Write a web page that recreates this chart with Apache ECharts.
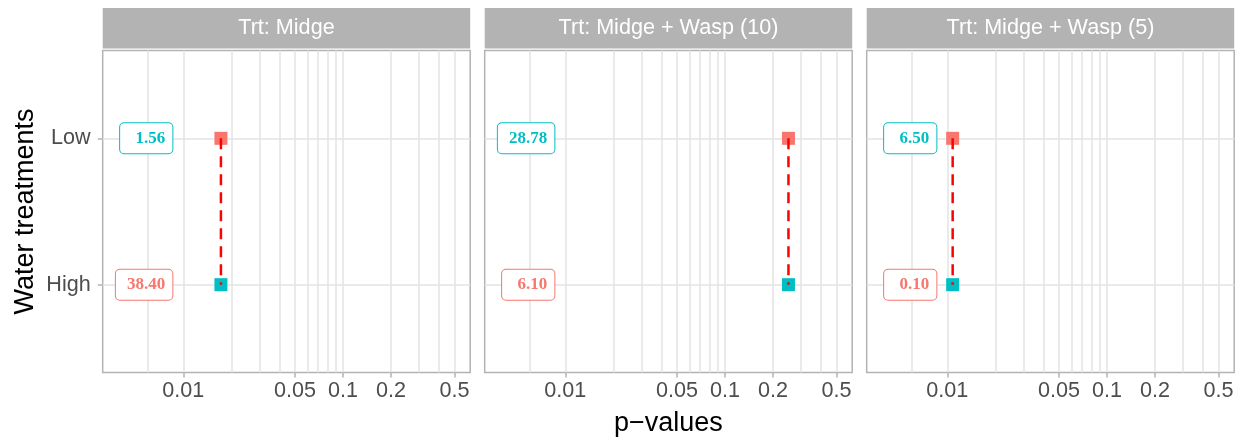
<!DOCTYPE html>
<html><head><meta charset="utf-8">
<script src="https://cdn.jsdelivr.net/npm/echarts@6/dist/echarts.min.js"></script>
<style>html,body{margin:0;padding:0;background:#fff}#c{width:1245px;height:442px}</style>
</head><body><div id="c"></div>
<script>
// ---- data ----
const panelTitles = ['Trt: Midge', 'Trt: Midge + Wasp (10)', 'Trt: Midge + Wasp (5)'];
const waterLevels = ['High', 'Low'];            // y positions 1, 2
const pValues = [0.0172, 0.25, 0.0108];          // p-value per panel (same for Low & High)
const lowLabels = [1.56, 28.78, 6.50];
const highLabels = [38.40, 6.10, 0.10];
const xBreaks = [0.01, 0.05, 0.1, 0.2, 0.5];
const xBreakLabels = ['0.01', '0.05', '0.1', '0.2', '0.5'];
const xMinorBreaks = [0.006, 0.02, 0.03, 0.04, 0.06, 0.07, 0.08, 0.09, 0.3, 0.4];
const xLimits = [0.003125, 0.627];
const yLimits = [0.4, 2.6];

// ---- layout / style ----
const PANEL_LEFT = [102.7, 484.7, 866.7];
const PANEL_W = 367.5;
const PANEL_TOP = 50.5;
const PANEL_H = 322;
const LABEL_X = 0.0086;
const SANS = '"Liberation Sans", Arial, sans-serif';
const SERIF = '"Liberation Serif", "Times New Roman", serif';
const GRID_COL = '#E3E3E3';
const BORDER_COL = '#B3B3B3';
const RED = '#F8766D', CYAN = '#00BFC4';

const yLow = waterLevels.indexOf('Low') + 1;
const yHigh = waterLevels.indexOf('High') + 1;
const allGridBreaks = xBreaks.concat(xMinorBreaks);

const grids = [], xAxes = [], yAxes = [], series = [], graphics = [];
panelTitles.forEach((title, i) => {
  grids.push({left: PANEL_LEFT[i], top: PANEL_TOP, width: PANEL_W, height: PANEL_H,
    show: true, borderColor: BORDER_COL, borderWidth: 1.5, backgroundColor: 'transparent',
    containLabel: false, outerBoundsMode: 'none'});
  // gridline axis
  xAxes.push({type: 'log', logBase: 10, gridIndex: i, position: 'bottom', min: xLimits[0], max: xLimits[1],
    axisLine: {show: false}, axisLabel: {show: false},
    axisTick: {show: false, customValues: allGridBreaks},
    splitLine: {show: true, lineStyle: {color: GRID_COL, width: 1.5}}});
  // labelled axis
  const ax = {type: 'log', logBase: 10, gridIndex: i, position: 'bottom', offset: 0, min: xLimits[0], max: xLimits[1],
    axisLine: {show: false},
    axisTick: {show: true, customValues: xBreaks, length: 5, lineStyle: {color: BORDER_COL, width: 1.5}},
    axisLabel: {show: true, customValues: xBreaks, margin: 8, fontSize: 21.6, fontFamily: SANS, color: '#4D4D4D',
      formatter: v => { const k = xBreaks.findIndex(b => Math.abs(b - v) / b < 1e-6); return k >= 0 ? xBreakLabels[k] : ''; }},
    splitLine: {show: false}};
  if (i === 1) {
    Object.assign(ax, {name: 'p\u2212values', nameLocation: 'middle', nameGap: 38,
      nameTextStyle: {fontSize: 27, fontFamily: SANS, color: '#000'}});
  }
  xAxes.push(ax);
  const ya = {type: 'value', gridIndex: i, position: 'left', min: yLimits[0], max: yLimits[1],
    axisLine: {show: false},
    axisTick: {show: i === 0, customValues: [1, 2], length: 5, lineStyle: {color: BORDER_COL, width: 1.5}},
    axisLabel: {show: i === 0, customValues: [1, 2], margin: 12, fontSize: 21.6, fontFamily: SANS, color: '#4D4D4D',
      formatter: v => waterLevels[Math.round(v) - 1] || ''},
    splitLine: {show: true, lineStyle: {color: GRID_COL, width: 1.5}}};
  if (i === 0) {
    Object.assign(ya, {name: 'Water treatments', nameLocation: 'middle', nameGap: 64, nameRotate: 90,
      nameTextStyle: {fontSize: 27, fontFamily: SANS, color: '#000'}});
  }
  yAxes.push(ya);

  const xi = 2 * i + 1;
  series.push({type: 'scatter', xAxisIndex: xi, yAxisIndex: i, symbol: 'rect', symbolSize: 13,
    itemStyle: {color: RED, opacity: 1}, data: [[pValues[i], yLow]], z: 3});
  series.push({type: 'scatter', xAxisIndex: xi, yAxisIndex: i, symbol: 'rect', symbolSize: 13,
    itemStyle: {color: CYAN, opacity: 1}, data: [[pValues[i], yHigh]], z: 3});
  series.push({type: 'line', xAxisIndex: xi, yAxisIndex: i, symbol: 'none', showSymbol: false,
    lineStyle: {color: '#FF0000', width: 2.5, type: [11, 7]}, data: [[pValues[i], yLow], [pValues[i], yHigh]], z: 4});
  const lab = (txt, col) => ({show: true, position: 'left', distance: 0,
    formatter: () => txt.toFixed(2).padStart(6, ' '),
    fontFamily: SERIF, fontWeight: 'bold', fontSize: 17, color: col, lineHeight: 18, opacity: 1,
    backgroundColor: '#fff', borderColor: col, borderWidth: 1, borderRadius: 4, padding: [6, 7, 6, 7]});
  series.push({type: 'scatter', xAxisIndex: xi, yAxisIndex: i, symbol: 'circle', symbolSize: 1, z: 5,
    itemStyle: {color: 'rgba(0,0,0,0)', opacity: 1},
    data: [
      {value: [LABEL_X, yLow], label: lab(lowLabels[i], CYAN)},
      {value: [LABEL_X, yHigh], label: lab(highLabels[i], RED)}
    ]});

  graphics.push({type: 'rect', shape: {x: PANEL_LEFT[i], y: 8, width: PANEL_W, height: 40.5},
    style: {fill: BORDER_COL}, z: 10});
  graphics.push({type: 'text', x: PANEL_LEFT[i] + PANEL_W / 2, y: 28.5, z: 11,
    style: {text: title, fill: '#fff', fontSize: 21.6, fontFamily: SANS, align: 'center', verticalAlign: 'middle'}});
});

const chart = echarts.init(document.getElementById('c'), null, {renderer: 'canvas'});
chart.setOption({animation: false, backgroundColor: '#fff', grid: grids, xAxis: xAxes, yAxis: yAxes,
  series: series, graphic: graphics, tooltip: {show: false}});
</script></body></html>
